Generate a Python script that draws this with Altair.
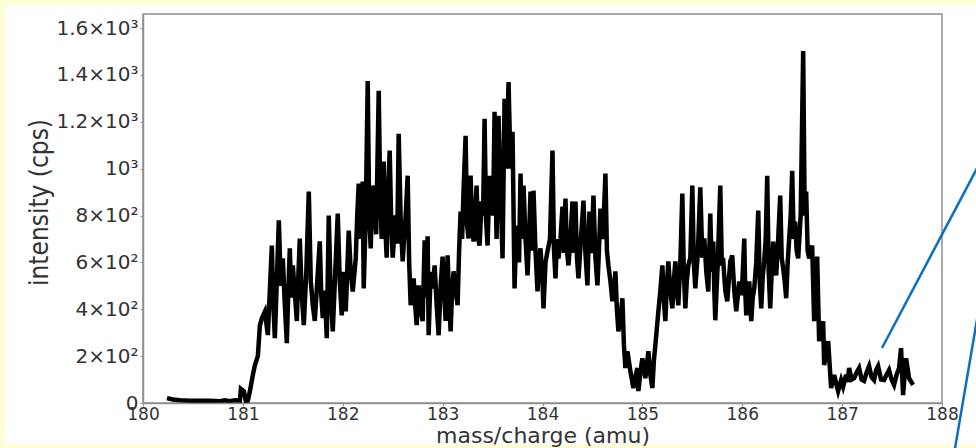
import altair as alt
import pandas as pd

# ---- data (mass in amu, intensity in cps) ----
mass = [
    180.24, 180.30, 180.37, 180.47, 180.57, 180.67, 180.77, 180.82, 180.87, 180.92,
    180.97, 180.98, 181.01, 181.03, 181.05, 181.07, 181.10, 181.12, 181.15, 181.17,
    181.19, 181.22, 181.235, 181.25, 181.27, 181.29, 181.305, 181.32, 181.34, 181.36,
    181.38, 181.40, 181.42, 181.44, 181.455, 181.47, 181.485, 181.50, 181.52, 181.54,
    181.555, 181.57, 181.59, 181.61, 181.635, 181.66, 181.68, 181.70, 181.72, 181.745,
    181.77, 181.785, 181.80, 181.82, 181.84, 181.86, 181.88, 181.90, 181.925, 181.95,
    181.97, 181.99, 182.01, 182.03, 182.06, 182.08, 182.10, 182.13, 182.145, 182.16,
    182.18, 182.20, 182.21, 182.23, 182.25, 182.265, 182.28, 182.295, 182.31, 182.335,
    182.36, 182.375, 182.39, 182.41, 182.425, 182.44, 182.455, 182.47, 182.485, 182.50,
    182.53, 182.545, 182.56, 182.58, 182.60, 182.63, 182.65, 182.665, 182.68, 182.71,
    182.725, 182.74, 182.76, 182.78, 182.80, 182.82, 182.835, 182.85, 182.86, 182.88,
    182.90, 182.92, 182.94, 182.96, 182.98, 183.00, 183.015, 183.03, 183.05, 183.065,
    183.08, 183.095, 183.11, 183.13, 183.15, 183.165, 183.18, 183.195, 183.21, 183.23,
    183.245, 183.26, 183.28, 183.295, 183.31, 183.325, 183.34, 183.355, 183.37, 183.39,
    183.405, 183.42, 183.435, 183.45, 183.47, 183.49, 183.505, 183.52, 183.54, 183.56,
    183.58, 183.60, 183.62, 183.64, 183.66, 183.68, 183.70, 183.72, 183.735, 183.75,
    183.765, 183.78, 183.795, 183.81, 183.83, 183.85, 183.865, 183.88, 183.895, 183.91,
    183.93, 183.95, 183.965, 183.98, 184.00, 184.01, 184.03, 184.05, 184.075, 184.10,
    184.115, 184.13, 184.145, 184.16, 184.18, 184.20, 184.215, 184.23, 184.245, 184.26,
    184.28, 184.30, 184.315, 184.33, 184.345, 184.36, 184.385, 184.41, 184.43, 184.45,
    184.47, 184.49, 184.51, 184.53, 184.55, 184.565, 184.58, 184.605, 184.63, 184.645,
    184.66, 184.68, 184.70, 184.715, 184.73, 184.745, 184.76, 184.78, 184.80, 184.815,
    184.83, 184.85, 184.88, 184.91, 184.93, 184.95, 184.96, 184.98, 185.00, 185.03,
    185.045, 185.06, 185.08, 185.10, 185.115, 185.13, 185.16, 185.18, 185.20, 185.215,
    185.23, 185.245, 185.26, 185.28, 185.30, 185.315, 185.33, 185.345, 185.36, 185.38,
    185.40, 185.415, 185.43, 185.445, 185.46, 185.48, 185.50, 185.515, 185.53, 185.555,
    185.58, 185.60, 185.62, 185.64, 185.66, 185.68, 185.695, 185.71, 185.72, 185.73,
    185.755, 185.78, 185.795, 185.81, 185.83, 185.85, 185.865, 185.88, 185.90, 185.92,
    185.94, 185.97, 185.995, 186.02, 186.03, 186.04, 186.055, 186.07, 186.09, 186.105,
    186.12, 186.14, 186.16, 186.175, 186.19, 186.205, 186.22, 186.235, 186.25, 186.265,
    186.28, 186.295, 186.31, 186.325, 186.34, 186.36, 186.38, 186.395, 186.41, 186.425,
    186.44, 186.455, 186.47, 186.485, 186.50, 186.515, 186.53, 186.545, 186.56, 186.585,
    186.61, 186.625, 186.64, 186.655, 186.67, 186.70, 186.72, 186.75, 186.77, 186.81,
    186.82, 186.86, 186.89, 186.92, 186.96, 186.99, 187.01, 187.04, 187.055, 187.07,
    187.095, 187.12, 187.145, 187.17, 187.195, 187.22, 187.245, 187.27, 187.295, 187.32,
    187.34, 187.36, 187.39, 187.42, 187.445, 187.47, 187.495, 187.52, 187.545, 187.57,
    187.59, 187.61, 187.64, 187.67, 187.71,
]

intensity = [
    21, 15, 12, 10, 10, 10, 8, 12, 8, 12,
    10, 60, 50, 8, 10, 50, 120, 161, 200, 330,
    362, 390, 340, 290, 480, 672, 420, 277, 520, 780,
    500, 617, 420, 255, 480, 660, 450, 587, 470, 350,
    540, 702, 460, 332, 560, 902, 520, 417, 350, 520,
    690, 460, 362, 480, 277, 800, 450, 306, 560, 808,
    520, 374, 560, 391, 736, 560, 476, 617, 800, 936,
    700, 945, 489, 800, 1374, 800, 660, 880, 928, 720,
    1332, 900, 700, 1030, 760, 620, 900, 1077, 780, 620,
    800, 680, 1149, 780, 604, 800, 970, 600, 417, 532,
    420, 332, 502, 400, 349, 694, 450, 711, 289, 560,
    489, 587, 420, 289, 500, 625, 470, 350, 630, 440,
    306, 480, 562, 480, 417, 650, 817, 700, 915, 1140,
    760, 702, 970, 760, 689, 800, 928, 700, 672, 860,
    800, 1213, 780, 672, 970, 902, 800, 1243, 700, 1226,
    900, 617, 1298, 1000, 1370, 1000, 1157, 489, 700, 757,
    600, 979, 700, 928, 700, 545, 700, 902, 650, 906,
    650, 476, 600, 660, 520, 404, 600, 647, 700, 1077,
    650, 532, 700, 617, 700, 838, 640, 872, 650, 587,
    700, 860, 640, 860, 620, 532, 700, 864, 640, 502,
    817, 640, 885, 620, 502, 650, 830, 700, 979, 650,
    587, 520, 434, 480, 562, 400, 306, 360, 447, 250,
    149, 221, 136, 64, 110, 149, 51, 130, 191, 106,
    160, 221, 120, 64, 180, 247, 391, 480, 587, 440,
    349, 500, 604, 480, 404, 520, 604, 480, 417, 600,
    894, 560, 404, 520, 587, 620, 928, 600, 489, 640,
    920, 620, 702, 560, 476, 808, 560, 689, 480, 353,
    600, 928, 600, 604, 480, 434, 520, 604, 630, 480,
    391, 519, 460, 702, 480, 374, 480, 519, 349, 450,
    489, 600, 821, 520, 404, 540, 604, 700, 970, 560,
    404, 560, 689, 580, 545, 700, 885, 620, 574, 520,
    447, 600, 702, 800, 991, 700, 774, 650, 617, 800,
    1502, 800, 902, 650, 617, 672, 349, 625, 264, 349,
    162, 264, 64, 119, 51, 98, 70, 120, 90, 149,
    100, 106, 130, 149, 100, 94, 130, 157, 110, 98,
    140, 157, 100, 98, 120, 140, 100, 77, 120, 149,
    234, 34, 191, 106, 77,
]

xtick_values = [180, 181, 182, 183, 184, 185, 186, 187, 188]
ytick_values = [0, 200, 400, 600, 800, 1000, 1200, 1400, 1600]
ytick_labels = ["0", "2×10²", "4×10²", "6×10²", "8×10²", "10³", "1.2×10³", "1.4×10³", "1.6×10³"]

x_title = "mass/charge (amu)"
y_title = "intensity (cps)"

df = pd.DataFrame({"mass": mass, "intensity": intensity})
deco = pd.DataFrame({"k": [0]})

label_expr = "[" + ",".join("'" + s + "'" for s in ytick_labels) + "][round(datum.value/200)]"

TEXT = "#333333"
GRAY = "#8f8f8f"

line = alt.Chart(df).mark_line(color="black", strokeWidth=4.5, clip=True).encode(
    x=alt.X("mass:Q",
            scale=alt.Scale(domain=[180, 188], nice=False, zero=False),
            axis=alt.Axis(values=xtick_values, format="d", title=x_title, grid=False,
                          labelFont="DejaVu Sans", labelFontSize=17, labelColor=TEXT,
                          labelPadding=0, labelFlush=False, labelOverlap=False,
                          tickSize=3, tickColor=GRAY, domainColor=GRAY, domainWidth=1.5,
                          titleFont="DejaVu Sans", titleFontSize=22, titleColor=TEXT,
                          titleFontWeight="normal", titleBaseline="alphabetic", titleY=39,
                          zindex=1)),
    y=alt.Y("intensity:Q",
            scale=alt.Scale(domain=[0, 1660], nice=False),
            axis=alt.Axis(values=ytick_values, labelExpr=label_expr, title=y_title, grid=False,
                          labelFont="DejaVu Sans", labelFontSize=20, labelColor=TEXT,
                          labelPadding=2, labelFlush=False, labelOverlap=False,
                          tickSize=3, tickColor=GRAY, domainColor=GRAY, domainWidth=1.5,
                          titleFont="Liberation Sans Narrow, DejaVu Sans Condensed, Arial Narrow, sans-serif",
                          titleFontSize=26, titleColor=TEXT, titleFontWeight="normal",
                          titleAngle=270, titleAlign="center", titleBaseline="alphabetic",
                          titleX=-96, titleY=188)),
)

# pale yellow outer border of the picture
border = alt.Chart(deco).mark_rect(filled=False, stroke="#FEFDD4", strokeWidth=10, clip=False).encode(
    x=alt.value(-143), x2=alt.value(843), y=alt.value(-14), y2=alt.value(435.5)
)

# two blue annotation strokes entering from the right
pointer1 = alt.Chart(deco).mark_rule(color="#0A6FC2", strokeWidth=2.5, clip=False).encode(
    x=alt.value(739), y=alt.value(334), x2=alt.value(840), y2=alt.value(143)
)
pointer2 = alt.Chart(deco).mark_rule(color="#0A6FC2", strokeWidth=2.5, clip=False).encode(
    x=alt.value(837), y=alt.value(288), x2=alt.value(810), y2=alt.value(446)
)

chart = alt.layer(line, border, pointer1, pointer2).properties(
    width=799, height=389,
    padding={"left": 143, "top": 14, "right": 34, "bottom": 45},
    autosize=alt.AutoSizeParams(type="none"),
    background="white",
).configure_view(stroke=GRAY, strokeWidth=1.5)

chart.save("out.html", embed_options={"renderer": "svg", "actions": False})
